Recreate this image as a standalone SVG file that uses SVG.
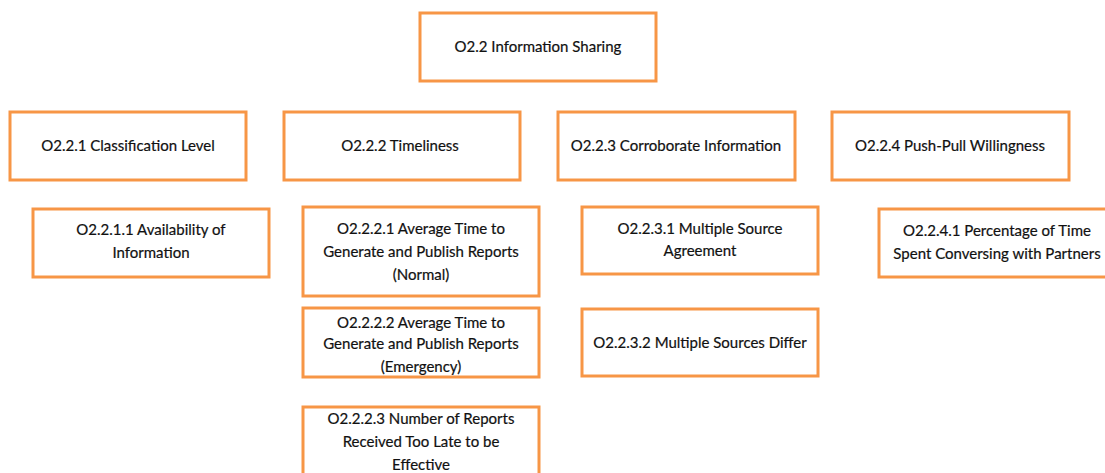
<svg xmlns="http://www.w3.org/2000/svg" width="1105" height="473" viewBox="0 0 1105 473">
  <style>
    .box { fill: #ffffff; stroke: #F79646; stroke-width: 3; }
    .lbl { font-family: Lato, "Liberation Sans", sans-serif; font-size: 15px; fill: #111111; text-anchor: middle; stroke: #111111; stroke-width: 0.2; }
  </style>
  <rect x="0" y="0" width="1105" height="473" fill="#ffffff"/>

  <g id="n-o2-2">
    <rect class="box" x="420" y="13" width="236" height="68"/>
    <text class="lbl" x="538" y="52">O2.2 Information Sharing</text>
  </g>

  <g id="n-o2-2-1">
    <rect class="box" x="10" y="112" width="236" height="68"/>
    <text class="lbl" x="128" y="151">O2.2.1 Classification Level</text>
  </g>
  <g id="n-o2-2-2">
    <rect class="box" x="284" y="112" width="236" height="68"/>
    <text class="lbl" x="400" y="151">O2.2.2 Timeliness</text>
  </g>
  <g id="n-o2-2-3">
    <rect class="box" x="558" y="112" width="237" height="68"/>
    <text class="lbl" x="676" y="151">O2.2.3 Corroborate Information</text>
  </g>
  <g id="n-o2-2-4">
    <rect class="box" x="832" y="112" width="237" height="68"/>
    <text class="lbl" x="950" y="151">O2.2.4 Push-Pull Willingness</text>
  </g>

  <g id="n-o2-2-1-1">
    <rect class="box" x="33" y="209" width="236" height="68"/>
    <text class="lbl" x="151" y="235">O2.2.1.1 Availability of</text>
    <text class="lbl" x="151" y="258">Information</text>
  </g>

  <g id="n-o2-2-2-1">
    <rect class="box" x="303" y="207" width="236" height="89"/>
    <text class="lbl" x="421" y="234">O2.2.2.1 Average Time to</text>
    <text class="lbl" x="421" y="257">Generate and Publish Reports</text>
    <text class="lbl" x="421" y="280">(Normal)</text>
  </g>
  <g id="n-o2-2-2-2">
    <rect class="box" x="303" y="308" width="236" height="69"/>
    <text class="lbl" x="421" y="328">O2.2.2.2 Average Time to</text>
    <text class="lbl" x="421" y="349">Generate and Publish Reports</text>
    <text class="lbl" x="421" y="372">(Emergency)</text>
  </g>
  <g id="n-o2-2-2-3">
    <rect class="box" x="303" y="407" width="236" height="80"/>
    <text class="lbl" x="421" y="424">O2.2.2.3 Number of Reports</text>
    <text class="lbl" x="421" y="447">Received Too Late to be</text>
    <text class="lbl" x="421" y="470">Effective</text>
  </g>

  <g id="n-o2-2-3-1">
    <rect class="box" x="582" y="207" width="236" height="67"/>
    <text class="lbl" x="700" y="234">O2.2.3.1 Multiple Source</text>
    <text class="lbl" x="700" y="256">Agreement</text>
  </g>
  <g id="n-o2-2-3-2">
    <rect class="box" x="582" y="309" width="236" height="67"/>
    <text class="lbl" x="700" y="348">O2.2.3.2 Multiple Sources Differ</text>
  </g>

  <g id="n-o2-2-4-1">
    <rect class="box" x="879" y="209" width="236" height="68"/>
    <text class="lbl" x="997" y="236">O2.2.4.1 Percentage of Time</text>
    <text class="lbl" x="997" y="259">Spent Conversing with Partners</text>
  </g>

  <!-- the hierarchy is shown by layout only; no connector lines are drawn -->
  <g id="connectors"/>
</svg>
